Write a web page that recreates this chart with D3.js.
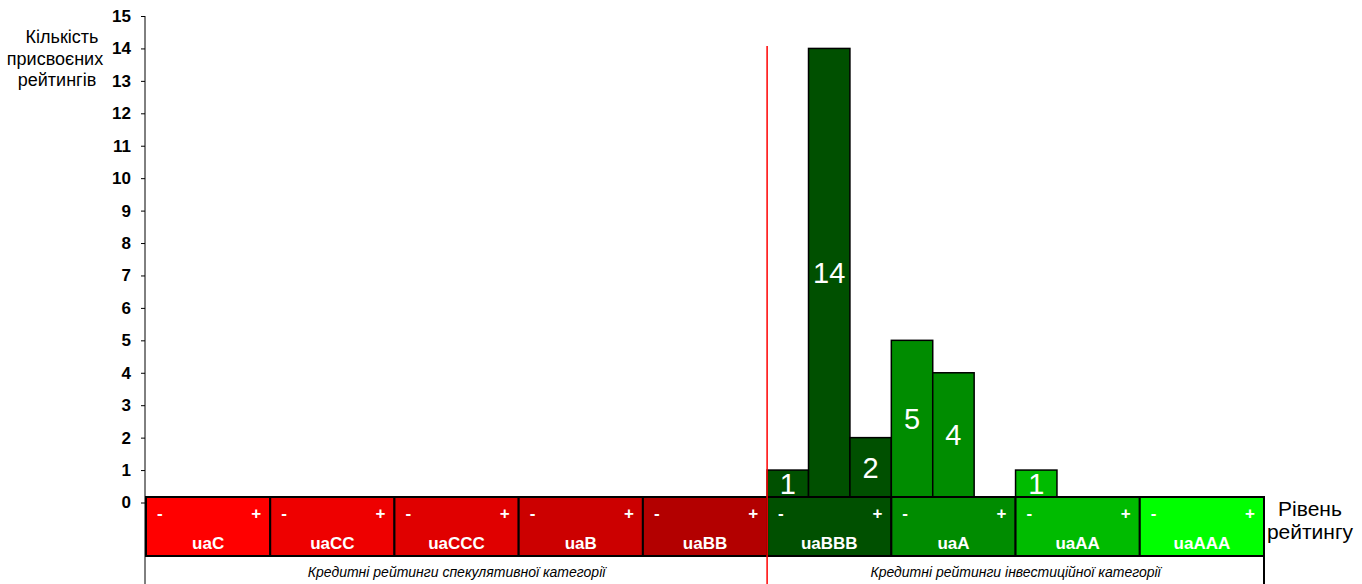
<!DOCTYPE html>
<meta charset="utf-8">
<style>
body { margin: 0; background: #fff; }
svg text { font-family: "Liberation Sans", Arial, sans-serif; }
.yaxis text { font-size: 17px; font-weight: bold; fill: #000; }
.barlab { fill: #fff; font-size: 29px; text-anchor: middle; }
.grade { fill: #fff; font-size: 17px; font-weight: bold; text-anchor: middle; }
.sign { fill: #fff; font-size: 17px; font-weight: bold; }
.note { font-size: 14px; font-style: italic; text-anchor: middle; }
.title { font-size: 18px; text-anchor: middle; }
</style>
<svg width="1362" height="584"></svg>
<script src="https://d3js.org/d3.v7.min.js"></script>
<script>

var grades = ["uaC", "uaCC", "uaCCC", "uaB", "uaBB", "uaBBB", "uaA", "uaAA", "uaAAA"];
var gradeColors = ["#ff0000", "#ee0000", "#e00000", "#cc0000", "#b30000", "#005000", "#008c00", "#00bb00", "#00ff00"];
var steps = ["-", "", "+"];
// counts per grade, for the "-", plain and "+" steps
var counts = [
  [0, 0, 0],
  [0, 0, 0],
  [0, 0, 0],
  [0, 0, 0],
  [0, 0, 0],
  [1, 14, 2],
  [5, 4, 0],
  [1, 0, 0],
  [0, 0, 0]
];
var yTicks = d3.range(0, 16);
var notes = ["Кредитні рейтинги спекулятивної категорії", "Кредитні рейтинги інвестиційної категорії"];

var svg = d3.select("svg");

var left = 146, right = 1264, topY = 16, zeroY = 502.5;
var bandTop = 497, bandBottom = 556, bottomY = 584;

var x = d3.scaleBand().domain(grades).range([left, right]);
var xs = d3.scaleBand().domain(steps.map(function(d, i) { return i; })).range([0, x.bandwidth()]);
var y = d3.scaleLinear().domain([0, 15]).range([zeroY, topY]);

var bars = [];
grades.forEach(function(g, gi) {
  counts[gi].forEach(function(v, si) {
    if (v > 0) bars.push({grade: g, gi: gi, step: si, value: v});
  });
});

// bars
var bar = svg.append("g").selectAll("g")
  .data(bars)
  .enter().append("g");

bar.append("rect")
  .attr("x", function(d) { return x(d.grade) + xs(d.step); })
  .attr("y", function(d) { return y(d.value); })
  .attr("width", xs.bandwidth())
  .attr("height", function(d) { return bandTop - y(d.value); })
  .attr("fill", function(d) { return gradeColors[d.gi]; })
  .attr("stroke", "#000")
  .attr("stroke-width", 1.5);

bar.append("text")
  .attr("class", "barlab")
  .attr("x", function(d) { return x(d.grade) + xs(d.step) + xs.bandwidth() / 2; })
  .attr("y", function(d) { return (y(d.value) + bandTop) / 2; })
  .attr("dy", "0.36em")
  .text(function(d) { return d.value; });

// y axis
var yAxis = svg.append("g")
  .attr("class", "yaxis")
  .attr("transform", "translate(" + (left - 1) + ",0)")
  .call(d3.axisLeft(y).tickValues(yTicks).tickSize(4).tickPadding(10).tickFormat(d3.format("d")));
yAxis.select(".domain").remove();
yAxis.selectAll("line").attr("stroke", "#000");
svg.append("line")
  .attr("x1", left - 1).attr("x2", left - 1)
  .attr("y1", topY).attr("y2", bottomY)
  .attr("stroke", "#000");

// grade band
var band = svg.append("g").selectAll("g")
  .data(grades)
  .enter().append("g");

band.append("rect")
  .attr("x", function(d) { return x(d); })
  .attr("y", bandTop)
  .attr("width", x.bandwidth())
  .attr("height", bandBottom - bandTop)
  .attr("fill", function(d, i) { return gradeColors[i]; })
  .attr("stroke", "#000")
  .attr("stroke-width", 2);

band.append("text")
  .attr("class", "sign")
  .attr("x", function(d) { return x(d) + 11; })
  .attr("y", bandTop + 22)
  .text("-");

band.append("text")
  .attr("class", "sign")
  .attr("x", function(d) { return x(d) + x.bandwidth() - 9; })
  .attr("y", bandTop + 22)
  .attr("text-anchor", "end")
  .text("+");

band.append("text")
  .attr("class", "grade")
  .attr("x", function(d) { return x(d) + x.bandwidth() / 2; })
  .attr("y", bandTop + 52)
  .text(function(d) { return d; });

// bottom category row
var split = x("uaBBB");
svg.append("line")
  .attr("x1", right).attr("x2", right)
  .attr("y1", bandBottom).attr("y2", bottomY)
  .attr("stroke", "#000").attr("stroke-width", 2);

svg.append("text").attr("class", "note")
  .attr("x", (left + split) / 2).attr("y", 577)
  .text(notes[0]);
svg.append("text").attr("class", "note")
  .attr("x", (split + right) / 2).attr("y", 577)
  .text(notes[1]);

// speculative / investment divider
svg.append("line")
  .attr("x1", split).attr("x2", split)
  .attr("y1", 46).attr("y2", bottomY)
  .attr("stroke", "#ff0000").attr("stroke-width", 1.5);

// axis titles
svg.append("text").attr("class", "title")
  .attr("y", 43)
  .selectAll("tspan")
  .data(["Кількість", "присвоєних", "рейтингів"])
  .enter().append("tspan")
  .attr("x", function(d, i) { return [62, 55, 57][i]; })
  .attr("dy", function(d, i) { return i ? 21.5 : 0; })
  .text(function(d) { return d; });

svg.append("text").attr("class", "title")
  .style("font-size", "21px")
  .attr("y", 516)
  .selectAll("tspan")
  .data(["Рівень", "рейтингу"])
  .enter().append("tspan")
  .attr("x", 1310)
  .attr("dy", function(d, i) { return i ? 23 : 0; })
  .text(function(d) { return d; });

</script>
